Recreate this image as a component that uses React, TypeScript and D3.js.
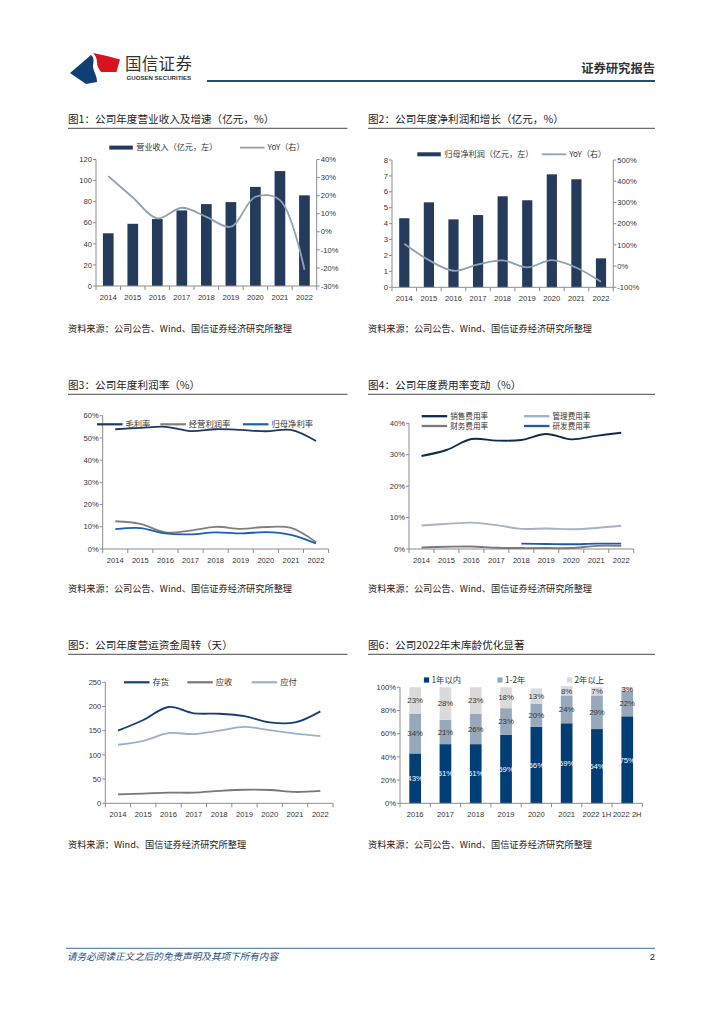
import React from 'react';
import * as d3 from 'd3';

const CN = '"Noto Sans CJK SC", "Liberation Sans", sans-serif';
const NUM = '"Liberation Sans", Arial, sans-serif';
const AXIS = '#8c8c8c';
const TXT = '#333333';

// ---- data ----
const years = ['2014', '2015', '2016', '2017', '2018', '2019', '2020', '2021', '2022'];

const revenue = [50, 59, 63.5, 71.7, 77.7, 79.6, 94, 109, 86];
const revenueYoY = [30.8, 19, 7.4, 13.3, 8.3, 2.8, 19.4, 17.5, -21];

const netProfit = [4.34, 5.34, 4.27, 4.54, 5.72, 5.47, 7.1, 6.79, 1.82];
const netProfitYoY = [105, 28, -22, 8, 27, -6, 28, -8, -74];

const grossMargin = [53.9, 54.5, 55, 53.1, 53.9, 53.6, 53, 53.6, 48.6];
const operatingMargin = [12.5, 11.3, 7.5, 8.3, 10, 9.1, 9.9, 9.5, 3.1];
const netMargin = [8.9, 9.4, 7, 6.6, 7.5, 7, 7.6, 6.4, 2.5];

const sellingRate = [29.6, 31.5, 35, 34.5, 34.7, 36.6, 34.9, 36, 37];
const adminRate = [7.5, 8, 8.4, 7.6, 6.4, 6.5, 6.3, 6.7, 7.4];
const financeRate = [0.5, 0.7, 0.8, 0.4, 0.3, 0.3, 0.3, 1.0, 1.0];
const rdYears = ['2018', '2019', '2020', '2021', '2022'];
const rdRate = [1.7, 1.6, 1.5, 1.7, 1.7];

const inventoryDays = [150, 172, 199, 186, 185, 180, 167, 167, 190];
const receivableDays = [18.6, 20, 22, 22, 25.5, 28, 27.5, 23.4, 25.5];
const payableDays = [121, 129, 145, 143, 150, 158, 151, 144, 139];

const ageCats = ['2016', '2017', '2018', '2019', '2020', '2021', '2022 1H', '2022 2H'];
const ageWithin1 = [43, 51, 51, 59, 66, 69, 64, 75];
const age1to2 = [34, 21, 26, 23, 20, 24, 29, 22];
const ageOver2 = [23, 28, 23, 18, 13, 8, 7, 3];

const SOURCE_A = '资料来源：公司公告、Wind、国信证券经济研究所整理';
const SOURCE_B = '资料来源：Wind、国信证券经济研究所整理';

type Box = { left: number; right: number; top: number; bottom: number };

const Frame = ({ x, w, y, title, sy, source }: { x: number; w: number; y: number; title: string; sy: number; source: string }) => (
  <g>
    <text x={x} y={y} fontSize={10.6} fontFamily={CN} fill="#222">{title}</text>
    <line x1={x} x2={x + w} y1={y + 5.6} y2={y + 5.6} stroke="#6e6e6e" strokeWidth={1.2} />
    <text x={x} y={sy} fontSize={9.2} fontFamily={CN} fill="#222">{source}</text>
  </g>
);

const XAxis = ({ x, box, labels }: { x: d3.ScaleBand<string>; box: Box; labels: string[] }) => {
  const step = x.step();
  const bounds = d3.range(labels.length + 1).map((i) => box.left + i * step);
  return (
    <g>
      <line x1={box.left} x2={box.right} y1={box.bottom} y2={box.bottom} stroke={AXIS} />
      {bounds.map((b, i) => (
        <line key={i} x1={b} x2={b} y1={box.bottom} y2={box.bottom + 4} stroke={AXIS} />
      ))}
      {labels.map((l) => (
        <text key={l} x={x(l)! + x.bandwidth() / 2} y={box.bottom + 13.5} textAnchor="middle"
          fontSize={7.6} fontFamily={NUM} fill={TXT}>{l}</text>
      ))}
    </g>
  );
};

const YAxis = ({ y, ticks, xPos, side, box, format }: {
  y: d3.ScaleLinear<number, number>; ticks: number[]; xPos: number; side: 'left' | 'right'; box: Box; format: (d: number) => string;
}) => {
  const dir = side === 'left' ? -1 : 1;
  return (
    <g>
      <line x1={xPos} x2={xPos} y1={box.top} y2={box.bottom} stroke={AXIS} />
      {ticks.map((t) => (
        <g key={t} transform={`translate(${xPos}, ${y(t)})`}>
          <line x1={0} x2={dir * 3} stroke={AXIS} />
          <text x={dir * 4} dy="0.35em" textAnchor={side === 'left' ? 'end' : 'start'}
            fontSize={7.6} fontFamily={NUM} fill={TXT}>{format(t)}</text>
        </g>
      ))}
    </g>
  );
};

const smooth = d3.curveCatmullRom.alpha(0.5);

type BarLineProps = {
  box: Box; bars: number[]; line: number[];
  left: [number, number, number]; right: [number, number, number];
  barW: number; legendY: number; barLegend: [number, string]; lineLegend: [number, string];
};

const BarLineChart = ({ box, bars, line, left, right, barW, legendY, barLegend, lineLegend }: BarLineProps) => {
  const x = d3.scaleBand<string>().domain(years).range([box.left, box.right]);
  const yL = d3.scaleLinear().domain([left[0], left[1]]).range([box.bottom, box.top]);
  const yR = d3.scaleLinear().domain([right[0], right[1]]).range([box.bottom, box.top]);
  const cx = (l: string) => x(l)! + x.bandwidth() / 2;
  const path = d3.line<number>().x((_, i) => cx(years[i])).y((d) => yR(d)).curve(smooth)(line) as string;
  return (
    <g>
      {bars.map((v, i) => (
        <rect key={years[i]} x={cx(years[i]) - barW / 2} y={yL(v)} width={barW} height={yL(0) - yL(v)} fill="#243b5c" />
      ))}
      <path d={path} fill="none" stroke="#8ea1b5" strokeWidth={1.8} />
      <XAxis x={x} box={box} labels={years} />
      <YAxis y={yL} box={box} xPos={box.left} side="left" ticks={d3.range(left[0], left[1] + left[2] / 2, left[2])} format={(d) => `${d}`} />
      <YAxis y={yR} box={box} xPos={box.right} side="right" ticks={d3.range(right[0], right[1] + right[2] / 2, right[2])} format={(d) => `${d}%`} />
      <rect x={barLegend[0]} y={legendY - 2} width={23.5} height={4} fill="#243b5c" />
      <text x={barLegend[0] + 27} y={legendY} dy="0.35em" fontSize={8.1} fontFamily={CN} fill={TXT}>{barLegend[1]}</text>
      <line x1={lineLegend[0]} x2={lineLegend[0] + 24.5} y1={legendY} y2={legendY} stroke="#8ea1b5" strokeWidth={1.8} />
      <text x={lineLegend[0] + 27.5} y={legendY} dy="0.35em" fontSize={8.1} fontFamily={CN} fill={TXT}>{lineLegend[1]}</text>
    </g>
  );
};

type Series = { name: string; labels: string[]; values: number[]; color: string; width: number; lx: number; ly: number };

const LineChart = ({ box, max, step, fmt, series, legendFont = 8.3 }: {
  box: Box; max: number; step: number; fmt: (d: number) => string; series: Series[]; legendFont?: number;
}) => {
  const x = d3.scaleBand<string>().domain(years).range([box.left, box.right]);
  const y = d3.scaleLinear().domain([0, max]).range([box.bottom, box.top]);
  const cx = (l: string) => x(l)! + x.bandwidth() / 2;
  return (
    <g>
      <XAxis x={x} box={box} labels={years} />
      <YAxis y={y} box={box} xPos={box.left} side="left" ticks={d3.range(0, max + step / 2, step)} format={fmt} />
      {series.map((s) => {
        const d = d3.line<number>().x((_, i) => cx(s.labels[i])).y((v) => y(v)).curve(smooth)(s.values) as string;
        return (
          <g key={s.name}>
            <path d={d} fill="none" stroke={s.color} strokeWidth={s.width} />
            <line x1={s.lx} x2={s.lx + 25.5} y1={s.ly} y2={s.ly} stroke={s.color} strokeWidth={s.width + 0.4} />
            <text x={s.lx + 28.5} y={s.ly} dy="0.35em" fontSize={legendFont} fontFamily={CN} fill={TXT}>{s.name}</text>
          </g>
        );
      })}
    </g>
  );
};

const AgeChart = ({ box }: { box: Box }) => {
  const keys = ['a', 'b', 'c'];
  const colors = ['#003e75', '#98a8bb', '#dadada'];
  const textColors = ['#ffffff', '#333333', '#333333'];
  const names = ['1年以内', '1-2年', '2年以上'];
  const legendX = [426.5, 500, 569.5];
  const rows = ageCats.map((c, i) => ({ cat: c, a: ageWithin1[i], b: age1to2[i], c: ageOver2[i] }));
  const stacked = d3.stack<any>().keys(keys)(rows);
  const x = d3.scaleBand<string>().domain(ageCats).range([box.left, box.right]);
  const y = d3.scaleLinear().domain([0, 100]).range([box.bottom, box.top]);
  const barW = 11.7;
  return (
    <g>
      {stacked.map((layer, k) => (
        <g key={keys[k]}>
          {layer.map((d, i) => {
            const cx = x(ageCats[i])! + x.bandwidth() / 2;
            return (
              <g key={ageCats[i]}>
                <rect x={cx - barW / 2} y={y(d[1])} width={barW} height={y(d[0]) - y(d[1])} fill={colors[k]} />
                <text x={cx} y={(y(d[0]) + y(d[1])) / 2} dy="0.35em" textAnchor="middle" fontSize={7.8}
                  fontFamily={NUM} fill={textColors[k]}>{`${d[1] - d[0]}%`}</text>
              </g>
            );
          })}
        </g>
      ))}
      <XAxis x={x} box={box} labels={ageCats} />
      <YAxis y={y} box={box} xPos={box.left} side="left" ticks={d3.range(0, 101, 20)} format={(d) => `${d}%`} />
      {names.map((n, k) => (
        <g key={n}>
          <rect x={legendX[k] - 2.6} y={680 - 2.6} width={5.2} height={5.2} fill={colors[k]} />
          <text x={legendX[k] + 5} y={680} dy="0.35em" fontSize={8.3} fontFamily={CN} fill={TXT}>{n}</text>
        </g>
      ))}
    </g>
  );
};

const Header = () => (
  <g>
    <path d="M70,73 L91,55 C95,58 93,63 93,66 C93,71 97,75 97,82 L86,84 Z" fill="#0f3f73" />
    <path d="M93,53 L107,56 L120,59.5 L116.5,72 L101,72 C98,68 97,66 97,62 C97,58 95,55 93,53 Z" fill="#d7141e" />
    <text x={125} y={69.5} fontSize={16.5} fontFamily={CN} fill="#333" letterSpacing={0.3}>国信证券</text>
    <text x={126.5} y={79.8} fontSize={6.1} fontFamily={NUM} fontWeight="bold" fill="#333">GUOSEN SECURITIES</text>
    <text x={655} y={73} textAnchor="end" fontSize={12.3} fontFamily={CN} fontWeight="bold" fill="#333">证券研究报告</text>
    <line x1={207} x2={655} y1={81} y2={81} stroke="#1f4e79" strokeWidth={2} />
  </g>
);

const Footer = () => (
  <g>
    <line x1={66} x2={655} y1={948.3} y2={948.3} stroke="#41729f" strokeWidth={1} />
    <text x={67} y={960} fontSize={9.6} fontFamily={CN} fontStyle="italic" fill="#1f4e79">请务必阅读正文之后的免责声明及其项下所有内容</text>
    <text x={655} y={960} textAnchor="end" fontSize={9.5} fontFamily={NUM} fill="#222">2</text>
  </g>
);

const App = () => (
  <svg width={724} height={1024} style={{ position: 'absolute', left: 0, top: 0, background: '#fff' }}>
    <rect width={724} height={1024} fill="#fff" />
    <Header />

    <Frame x={68} w={279.5} y={122.7} title="图1：公司年度营业收入及增速（亿元，%）" sy={332} source={SOURCE_A} />
    <BarLineChart box={{ left: 96, right: 316.7, top: 159.5, bottom: 286 }} bars={revenue} line={revenueYoY}
      left={[0, 120, 20]} right={[-30, 40, 10]} barW={10.7} legendY={147.6}
      barLegend={[109.3, '营业收入（亿元，左）']} lineLegend={[240, 'YoY（右）']} />

    <Frame x={368} w={287} y={122.7} title="图2：公司年度净利润和增长（亿元，%）" sy={332} source={SOURCE_A} />
    <BarLineChart box={{ left: 392, right: 613.3, top: 160, bottom: 287.3 }} bars={netProfit} line={netProfitYoY}
      left={[0, 8, 1]} right={[-100, 500, 100]} barW={10.2} legendY={154.3}
      barLegend={[417.3, '归母净利润（亿元，左）']} lineLegend={[541.7, 'YoY（右）']} />

    <Frame x={68} w={279.5} y={388.7} title="图3：公司年度利润率（%）" sy={592} source={SOURCE_A} />
    <LineChart box={{ left: 102.7, right: 328.6, top: 415.7, bottom: 549 }} max={60} step={10} fmt={(d) => `${d}%`}
      series={[
        { name: '毛利率', labels: years, values: grossMargin, color: '#1c3a63', width: 1.8, lx: 97, ly: 424.3 },
        { name: '经营利润率', labels: years, values: operatingMargin, color: '#808080', width: 1.8, lx: 160.3, ly: 424.3 },
        { name: '归母净利率', labels: years, values: netMargin, color: '#1a5fb4', width: 1.8, lx: 243, ly: 424.3 },
      ]} />

    <Frame x={368} w={287} y={388.7} title="图4：公司年度费用率变动（%）" sy={592} source={SOURCE_A} />
    <LineChart box={{ left: 409, right: 633.7, top: 423.3, bottom: 549 }} max={40} step={10} fmt={(d) => `${d}%`}
      legendFont={7.6}
      series={[
        { name: '销售费用率', labels: years, values: sellingRate, color: '#0e2b50', width: 1.9, lx: 421.7, ly: 416.2 },
        { name: '管理费用率', labels: years, values: adminRate, color: '#a3b3c5', width: 1.9, lx: 524, ly: 416.2 },
        { name: '财务费用率', labels: years, values: financeRate, color: '#7a7a7a', width: 1.9, lx: 421.7, ly: 426 },
        { name: '研发费用率', labels: rdYears, values: rdRate, color: '#1f5aa8', width: 1.9, lx: 524, ly: 426 },
      ]} />

    <Frame x={68} w={279.5} y={648.7} title="图5：公司年度营运资金周转（天）" sy={848} source={SOURCE_B} />
    <LineChart box={{ left: 105.3, right: 333, top: 682.3, bottom: 803.3 }} max={250} step={50} fmt={(d) => `${d}`}
      series={[
        { name: '存货', labels: years, values: inventoryDays, color: '#173f73', width: 1.8, lx: 124, ly: 682.3 },
        { name: '应收', labels: years, values: receivableDays, color: '#777777', width: 1.8, lx: 187.3, ly: 682.3 },
        { name: '应付', labels: years, values: payableDays, color: '#9db0c6', width: 1.8, lx: 251.7, ly: 682.3 },
      ]} />

    <Frame x={368} w={287} y={648.7} title="图6：公司2022年末库龄优化显著" sy={848} source={SOURCE_A} />
    <AgeChart box={{ left: 400, right: 642.4, top: 687.3, bottom: 803.3 }} />

    <Footer />
  </svg>
);

export default App;
